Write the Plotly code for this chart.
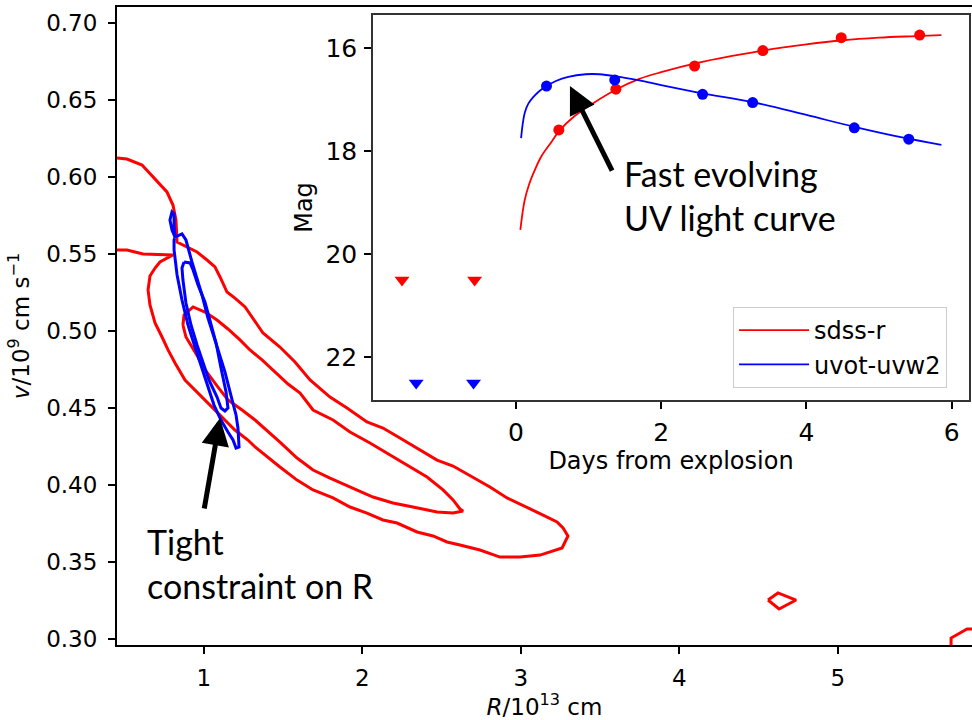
import plotly.graph_objects as go

# ---------------- main panel: contour lines (R [1e13 cm], v [1e9 cm/s]) ----------------
red_outer_R = [0.453, 0.516, 0.611, 0.680, 0.768, 0.806, 0.825, 0.832, 0.901, 0.958, 1.021, 1.071,
               1.103, 1.147, 1.197, 1.261, 1.374, 1.481, 1.576, 1.671, 1.797, 1.904, 2.030, 2.131,
               2.238, 2.346, 2.472, 2.573, 2.699, 2.806, 2.914, 3.040, 3.141, 3.229, 3.267, 3.298,
               3.261, 3.122, 2.996, 2.869, 2.743, 2.617, 2.535, 2.447, 2.346, 2.220, 2.131, 2.030,
               1.923, 1.816, 1.690, 1.589, 1.481, 1.324, 1.279, 1.197, 1.115, 1.027, 0.945, 0.882,
               0.819, 0.775, 0.737, 0.693, 0.661, 0.649, 0.661, 0.693, 0.724, 0.806, 0.617, 0.516, 0.453]
red_outer_v = [0.6123, 0.6117, 0.6078, 0.6000, 0.5903, 0.5818, 0.5721, 0.5578, 0.5545, 0.5513, 0.5461, 0.5416,
               0.5351, 0.5253, 0.5214, 0.5156, 0.4987, 0.4896, 0.4799, 0.4682, 0.4571, 0.4500, 0.4409, 0.4370,
               0.4305, 0.4240, 0.4162, 0.4123, 0.4052, 0.3987, 0.3916, 0.3857, 0.3805, 0.3760, 0.3721, 0.3669,
               0.3591, 0.3545, 0.3532, 0.3532, 0.3578, 0.3610, 0.3630, 0.3669, 0.3695, 0.3753, 0.3773, 0.3818,
               0.3857, 0.3916, 0.3968, 0.4032, 0.4117, 0.4247, 0.4292, 0.4357, 0.4442, 0.4532, 0.4617, 0.4682,
               0.4792, 0.4877, 0.4961, 0.5052, 0.5169, 0.5266, 0.5357, 0.5409, 0.5448, 0.5494, 0.5500, 0.5526, 0.5526]

red_inner_R = [0.869, 0.876, 0.933, 1.008, 1.084, 1.153, 1.229, 1.292, 1.368, 1.450, 1.532, 1.608, 1.690,
               1.816, 1.923, 2.049, 2.175, 2.302, 2.409, 2.510, 2.573, 2.617, 2.636, 2.573, 2.472, 2.320,
               2.194, 2.068, 1.923, 1.797, 1.690, 1.589, 1.481, 1.324, 1.242, 1.153, 1.090, 1.027, 0.996,
               0.964, 0.926, 0.888, 0.869]
red_inner_v = [0.5039, 0.5104, 0.5156, 0.5123, 0.5071, 0.5013, 0.4942, 0.4877, 0.4812, 0.4734, 0.4656, 0.4597, 0.4487,
               0.4422, 0.4344, 0.4273, 0.4195, 0.4117, 0.4052, 0.3968, 0.3903, 0.3844, 0.3831, 0.3818, 0.3825, 0.3857,
               0.3883, 0.3922, 0.3987, 0.4045, 0.4097, 0.4175, 0.4279, 0.4422, 0.4487, 0.4552, 0.4636, 0.4727, 0.4766,
               0.4831, 0.4896, 0.4961, 0.5039]

red_island_R = [4.560, 4.623, 4.737, 4.630, 4.560]
red_island_v = [0.3253, 0.3299, 0.3253, 0.3195, 0.3253]

red_edge_R = [5.715, 5.715, 5.816, 5.870]
red_edge_v = [0.2961, 0.3006, 0.3065, 0.3065]

blue_outer_R = [0.819, 0.800, 0.787, 0.800, 0.813, 0.813, 0.819, 0.863, 0.888, 0.926, 0.989, 1.027, 1.071,
                1.134, 1.179, 1.204, 1.216, 1.223, 1.204, 1.185, 1.153, 1.109, 1.065, 1.027, 0.989, 0.945,
                0.901, 0.863, 0.832, 0.813, 0.813, 0.819]
blue_outer_v = [0.5610, 0.5656, 0.5721, 0.5773, 0.5760, 0.5680, 0.5610, 0.5630, 0.5591, 0.5448, 0.5234, 0.5084, 0.4942,
                0.4734, 0.4552, 0.4455, 0.4370, 0.4247, 0.4240, 0.4292, 0.4344, 0.4422, 0.4519, 0.4636, 0.4766, 0.4896,
                0.5039, 0.5201, 0.5364, 0.5526, 0.5591, 0.5610]

blue_inner_R = [0.876, 0.914, 0.933, 0.964, 1.008, 1.040, 1.078, 1.109, 1.141, 1.153, 1.134, 1.109, 1.084,
                1.033, 0.996, 0.958, 0.920, 0.888, 0.869, 0.863, 0.876]
blue_inner_v = [0.5448, 0.5442, 0.5396, 0.5299, 0.5188, 0.5071, 0.4922, 0.4760, 0.4604, 0.4500, 0.4481, 0.4500, 0.4571,
                0.4682, 0.4792, 0.4909, 0.5039, 0.5182, 0.5331, 0.5409, 0.5448]

# ---------------- inset: light curves ----------------
r_curve_t = [0.06, 0.09, 0.12, 0.18, 0.24, 0.35, 0.5, 0.6, 0.8, 1.0, 1.36, 1.7, 2.0, 2.5, 3.0, 3.4, 4.0, 4.5, 5.0, 5.5, 5.86]
r_curve_m = [19.53, 19.2, 18.95, 18.65, 18.43, 18.1, 17.8, 17.6, 17.33, 17.13, 16.82, 16.6, 16.47, 16.29, 16.15, 16.05,
             15.93, 15.85, 15.8, 15.77, 15.75]
uv_curve_t = [0.07, 0.09, 0.12, 0.17, 0.24, 0.32, 0.42, 0.55, 0.72, 0.96, 1.15, 1.38, 1.7, 2.0, 2.57, 3.26, 4.0, 4.66, 5.3, 5.86]
uv_curve_m = [17.75, 17.5, 17.26, 17.08, 16.95, 16.84, 16.74, 16.64, 16.56, 16.51, 16.51, 16.55, 16.63, 16.72, 16.88,
              17.05, 17.3, 17.53, 17.73, 17.88]

r_obs_t = [0.59, 1.376, 2.46, 3.40, 4.48, 5.56]
r_obs_m = [17.59, 16.80, 16.35, 16.05, 15.80, 15.75]
uv_obs_t = [0.42, 1.36, 2.57, 3.26, 4.66, 5.41]
uv_obs_m = [16.74, 16.62, 16.90, 17.06, 17.55, 17.77]

r_lim_t = [-1.57, -0.57]
r_lim_m = [20.50, 20.50]
uv_lim_t = [-1.375, -0.585]
uv_lim_m = [22.50, 22.50]

RED = "#ff0000"
BLUE = "#0000ff"
FONT = "DejaVu Sans"

fig = go.Figure()

for xs, ys, c in [(red_outer_R, red_outer_v, RED), (red_inner_R, red_inner_v, RED),
                  (red_island_R, red_island_v, RED), (red_edge_R, red_edge_v, RED),
                  (blue_outer_R, blue_outer_v, BLUE), (blue_inner_R, blue_inner_v, BLUE)]:
    fig.add_trace(go.Scatter(x=xs, y=ys, mode="lines", line=dict(color=c, width=3),
                             showlegend=False, hoverinfo="skip", xaxis="x", yaxis="y"))

fig.add_trace(go.Scatter(x=r_curve_t, y=r_curve_m, mode="lines", line=dict(color=RED, width=1.8, shape="spline"),
                         name="sdss-r", xaxis="x2", yaxis="y2"))
fig.add_trace(go.Scatter(x=uv_curve_t, y=uv_curve_m, mode="lines", line=dict(color=BLUE, width=1.8, shape="spline"),
                         name="uvot-uvw2", xaxis="x2", yaxis="y2"))
fig.add_trace(go.Scatter(x=r_obs_t, y=r_obs_m, mode="markers", marker=dict(color=RED, size=11),
                         showlegend=False, xaxis="x2", yaxis="y2"))
fig.add_trace(go.Scatter(x=uv_obs_t, y=uv_obs_m, mode="markers", marker=dict(color=BLUE, size=11),
                         showlegend=False, xaxis="x2", yaxis="y2"))
fig.add_trace(go.Scatter(x=r_lim_t, y=r_lim_m, mode="markers",
                         marker=dict(color=RED, size=13, symbol="triangle-down"),
                         showlegend=False, xaxis="x2", yaxis="y2"))
fig.add_trace(go.Scatter(x=uv_lim_t, y=uv_lim_m, mode="markers",
                         marker=dict(color=BLUE, size=13, symbol="triangle-down"),
                         showlegend=False, xaxis="x2", yaxis="y2"))

axis_common = dict(showgrid=False, zeroline=False, showline=True, ticks="outside",
                   ticklen=7, tickwidth=1.5, tickcolor="black", automargin=False)

fig.update_layout(
    width=972, height=720,
    margin=dict(l=117, r=0, t=7, b=75),
    paper_bgcolor="white", plot_bgcolor="white",
    font=dict(family=FONT, color="black"),
    xaxis=dict(axis_common, range=[0.453, 5.847], tickvals=[1, 2, 3, 4, 5],
               linecolor="black", linewidth=2, mirror=True,
               tickfont=dict(size=23), ticklabelstandoff=4,
               title=dict(text="<i>R</i>/10<sup>13</sup> cm", font=dict(size=23), standoff=8)),
    yaxis=dict(axis_common, range=[0.2961, 0.7104],
               tickvals=[0.30, 0.35, 0.40, 0.45, 0.50, 0.55, 0.60, 0.65, 0.70], tickformat=".2f",
               linecolor="black", linewidth=2,
               tickfont=dict(size=23), ticklabelstandoff=6,
               title=dict(text="<i>v</i>/10<sup>9</sup> cm s<sup>\u22121</sup>", font=dict(size=23), standoff=10)),
    xaxis2=dict(axis_common, domain=[0.2994, 0.9965], anchor="y2", range=[-1.97, 6.24],
                tickvals=[0, 2, 4, 6], linecolor="#333333", linewidth=1.5, mirror=True,
                tickfont=dict(size=25), ticklabelstandoff=2,
                title=dict(text="Days from explosion", font=dict(size=24), standoff=6)),
    yaxis2=dict(axis_common, domain=[0.384, 0.9875], anchor="x2", range=[22.83, 15.36],
                tickvals=[16, 18, 20, 22], linecolor="#333333", linewidth=1.5, mirror=True,
                tickfont=dict(size=25), ticklabelstandoff=2,
                title=dict(text="Mag", font=dict(size=24), standoff=6)),
    legend=dict(x=0.7205, y=0.5298, xanchor="left", yanchor="top",
                bgcolor="rgba(255,255,255,0.9)", bordercolor="#cccccc", borderwidth=1,
                font=dict(size=24), tracegroupgap=0, itemwidth=70),
    annotations=[
        dict(x=1.103, y=0.4435, ax=1.002, ay=0.3838, xref="x", yref="y", axref="x", ayref="y",
             text="", showarrow=True, arrowhead=2, arrowsize=1.1, arrowwidth=5, arrowcolor="black"),
        dict(x=0.743, y=16.74, ax=1.334, ay=18.41, xref="x2", yref="y2", axref="x2", ayref="y2",
             text="", showarrow=True, arrowhead=2, arrowsize=1.1, arrowwidth=5, arrowcolor="black"),
        dict(x=1.458, y=18.0, xref="x2", yref="y2", xanchor="left", yanchor="top", align="left",
             text="Fast evolving<br>UV light curve", showarrow=False,
             font=dict(family="Lato", size=34, color="black")),
        dict(x=0.63, y=0.378, xref="x", yref="y", xanchor="left", yanchor="top", align="left",
             text="Tight<br>constraint on R", showarrow=False,
             font=dict(family="Lato", size=34, color="black")),
    ],
)

# remove the browser's default 8px page margin so the figure sits at the top-left corner
fig.write_html("out.html", config={"displayModeBar": False},
               post_script="document.body.style.margin='0';document.body.style.overflow='hidden';")
